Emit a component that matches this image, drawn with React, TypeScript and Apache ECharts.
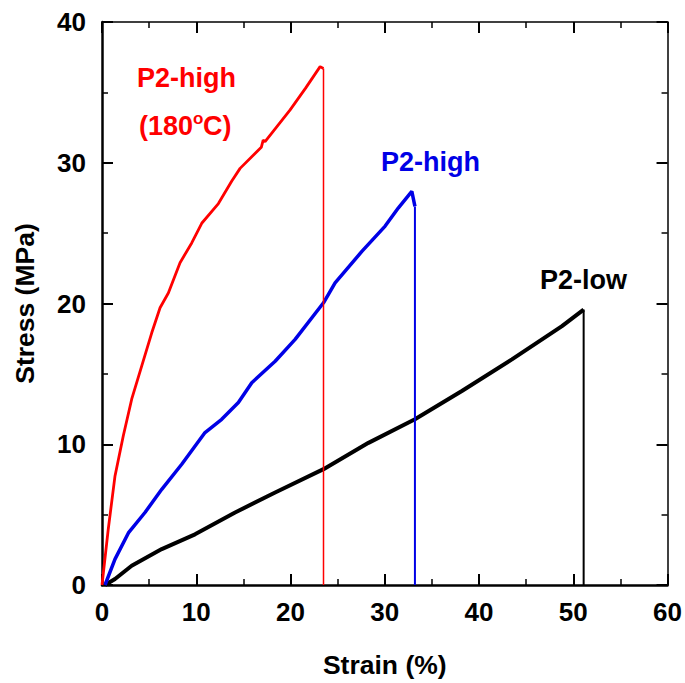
import React, { useEffect, useRef } from "react";
import * as echarts from "echarts";

// P2-high (180°C) — red
const redStrain = [0, 0.67, 1.38, 2.26, 3.15, 4.21, 5.27, 6.16, 7.04, 8.28, 9.52, 10.58, 12.35, 13.77, 14.65, 16.9, 17.1, 17.3, 19.96, 21.6, 23.14, 23.5];
const redStress = [0, 4.0, 7.75, 10.6, 13.2, 15.55, 17.9, 19.7, 20.75, 22.9, 24.3, 25.7, 27.1, 28.7, 29.6, 31.1, 31.6, 31.5, 33.76, 35.3, 36.83, 36.7];
// P2-high — blue
const blueStrain = [0.32, 1.38, 2.8, 4.56, 6.34, 8.46, 10.93, 12.7, 14.47, 15.89, 18.37, 20.49, 23.5, 24.73, 27.57, 30.04, 31.45, 32.87, 33.2];
const blueStress = [0, 1.84, 3.7, 5.15, 6.8, 8.58, 10.83, 11.77, 12.96, 14.37, 15.9, 17.45, 20.05, 21.47, 23.7, 25.5, 26.8, 27.96, 26.9];
// P2-low — black
const blackStrain = [0.32, 1.38, 3.15, 6.34, 9.87, 14.12, 18.37, 23.5, 28.27, 33.2, 38.18, 43.49, 48.8, 51.1];
const blackStress = [0, 0.43, 1.37, 2.55, 3.6, 5.15, 6.57, 8.23, 10.1, 11.77, 13.78, 16.03, 18.39, 19.57];

// fracture (break) strains
const breakStrain = { red: 23.5, blue: 33.2, black: 51.1 };

const xTicks = [0, 10, 20, 30, 40, 50, 60];
const yTicks = [0, 10, 20, 30, 40];

const FONT = '"Liberation Sans", Arial, Helvetica, sans-serif';

function pairs(xs: number[], ys: number[]) {
  return xs.map((x, i) => [x, ys[i]]);
}

export default function App() {
  const ref = useRef<HTMLDivElement>(null);
  useEffect(() => {
    if (!ref.current) return;
    const chart = echarts.init(ref.current, undefined, { renderer: "svg" });
    const redData = pairs(redStrain, redStress);
    const blueData = pairs(blueStrain, blueStress);
    const blackData = pairs(blackStrain, blackStress);
    const drop = (d: number[][], xb: number) => [d[d.length - 1], [xb, 0]];

    const xBase = {
      type: "value" as const,
      min: xTicks[0],
      max: xTicks[xTicks.length - 1],
      interval: 10,
      splitLine: { show: false },
      minorTick: { show: true, splitNumber: 2, length: 6, lineStyle: { color: "#000", width: 1.5 } },
      axisTick: { show: true, inside: true, length: 11, lineStyle: { color: "#000", width: 2 } },
    };
    const yBase = {
      type: "value" as const,
      min: yTicks[0],
      max: yTicks[yTicks.length - 1],
      interval: 10,
      splitLine: { show: false },
      minorTick: { show: true, splitNumber: 2, length: 6, lineStyle: { color: "#000", width: 1.5 } },
      axisTick: { show: true, inside: true, length: 11, lineStyle: { color: "#000", width: 2 } },
    };
    const labelStyle = { color: "#000", fontSize: 26, fontWeight: "bold" as const, fontFamily: FONT };
    const titleStyle = { color: "#000", fontSize: 26.5, fontWeight: "bold" as const, fontFamily: FONT };

    chart.setOption({
      animation: false,
      backgroundColor: "#fff",
      grid: { left: 102, right: 17, top: 22, bottom: 97, containLabel: false },
      xAxis: [
        {
          ...xBase,
          position: "bottom",
          name: "Strain (%)",
          nameLocation: "middle",
          nameGap: 66,
          nameTextStyle: titleStyle,
          axisLine: { show: true, onZero: false, lineStyle: { color: "#000", width: 2.5 } },
          axisLabel: { ...labelStyle, margin: 14 },
        },
        {
          ...xBase,
          position: "top",
          axisLine: { show: true, onZero: false, lineStyle: { color: "#000", width: 1.5 } },
          axisLabel: { show: false },
        },
      ],
      yAxis: [
        {
          ...yBase,
          position: "left",
          name: "Stress (MPa)",
          nameLocation: "middle",
          nameGap: 64,
          nameTextStyle: titleStyle,
          axisLine: { show: true, onZero: false, lineStyle: { color: "#000", width: 2.5 } },
          axisLabel: { ...labelStyle, margin: 16 },
        },
        {
          ...yBase,
          position: "right",
          axisLine: { show: true, onZero: false, lineStyle: { color: "#000", width: 1.5 } },
          axisLabel: { show: false },
        },
      ],
      series: [
        { type: "line", data: blackData, showSymbol: false, lineStyle: { color: "#000", width: 4 }, z: 3 },
        { type: "line", data: drop(blackData, breakStrain.black), showSymbol: false, lineStyle: { color: "#000", width: 2 }, z: 3 },
        { type: "line", data: blueData, showSymbol: false, lineStyle: { color: "#0000e6", width: 3.5 }, z: 4 },
        { type: "line", data: drop(blueData, breakStrain.blue), showSymbol: false, lineStyle: { color: "#0000e6", width: 2 }, z: 4 },
        { type: "line", data: redData, showSymbol: false, lineStyle: { color: "#ff0000", width: 2.8 }, z: 5 },
        { type: "line", data: drop(redData, breakStrain.red), showSymbol: false, lineStyle: { color: "#ff0000", width: 1.5 }, z: 5 },
      ],
      graphic: [
        { type: "text", left: 137, top: 64, style: { text: "P2-high", fill: "#ff0000", font: `bold 27px ${FONT}` } },
        { type: "text", left: 139, top: 112, style: { text: "(180", fill: "#ff0000", font: `bold 27px ${FONT}` } },
        { type: "text", left: 193, top: 110, style: { text: "o", fill: "#ff0000", font: `bold 17px ${FONT}` } },
        { type: "text", left: 203, top: 112, style: { text: "C)", fill: "#ff0000", font: `bold 27px ${FONT}` } },
        { type: "text", left: 381, top: 148, style: { text: "P2-high", fill: "#0000e6", font: `bold 27px ${FONT}` } },
        { type: "text", left: 540, top: 266, style: { text: "P2-low", fill: "#000", font: `bold 27px ${FONT}` } },
      ],
    });
    return () => chart.dispose();
  }, []);
  return (
    <div
      ref={ref}
      style={{ position: "absolute", left: 0, top: 0, width: 685, height: 683, background: "#fff" }}
    />
  );
}
